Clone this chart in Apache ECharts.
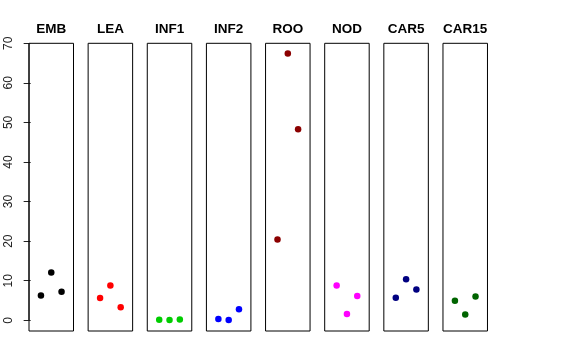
<!DOCTYPE html>
<html><head><meta charset="utf-8">
<script src="https://cdn.jsdelivr.net/npm/echarts@6/dist/echarts.min.js"></script>
<style>html,body{margin:0;padding:0;background:#fff}#c{width:576px;height:360px}</style>
</head><body><div id="c"></div>
<script>
const categories = ["EMB","LEA","INF1","INF2","ROO","NOD","CAR5","CAR15"];
const colors = ["#000000","#FF0000","#00CD00","#0000FF","#8B0000","#FF00FF","#000080","#006400"];
const xPositions = [1, 2, 3];
const EMB = [6.3, 12.1, 7.2];
const LEA = [5.65, 8.8, 3.3];
const INF1 = [0.15, 0.1, 0.2];
const INF2 = [0.35, 0.1, 2.8];
const ROO = [20.4, 67.4, 48.3];
const NOD = [8.8, 1.6, 6.15];
const CAR5 = [5.7, 10.35, 7.8];
const CAR15 = [4.95, 1.45, 6.0];
const values = [EMB, LEA, INF1, INF2, ROO, NOD, CAR5, CAR15];
const yTicks = [0, 10, 20, 30, 40, 50, 60, 70];

const panelLeft = 29, panelStep = 59.14, panelWidth = 44.5, panelTop = 43.3, panelHeight = 287.7;
const grids = [], xAxes = [], yAxes = [], series = [], graphics = [];
categories.forEach((cat, i) => {
  const left = panelLeft + i * panelStep;
  grids.push({left: left, top: panelTop, width: panelWidth, height: panelHeight,
    show: true, borderColor: '#000', borderWidth: 1, backgroundColor: 'transparent'});
  xAxes.push({type: 'value', gridIndex: i, min: -0.16, max: 4.16, show: false});
  yAxes.push({type: 'value', gridIndex: i, min: -2.7, max: 70,
    splitLine: {show: false},
    axisLine: {show: false},
    axisTick: {show: i === 0, length: 7, lineStyle: {color: '#222'}, customValues: yTicks},
    axisLabel: {show: i === 0, rotate: 90, margin: 14, fontSize: 12, color: '#222',
      fontFamily: 'Liberation Sans, Arial, sans-serif', customValues: yTicks}
  });
  graphics.push({type: 'text', x: left + panelWidth / 2, y: 29.5, silent: true,
    style: {text: cat, textAlign: 'center', textVerticalAlign: 'middle', fill: '#000',
      font: 'bold 13.5px "Liberation Sans", Arial, sans-serif'}});
  series.push({type: 'scatter', xAxisIndex: i, yAxisIndex: i, symbolSize: 6.5,
    itemStyle: {color: colors[i], opacity: 1},
    data: xPositions.map((x, k) => [x, values[i][k]]), animation: false});
});
// y axis line from 0 to 70 on first panel
series.push({type: 'line', xAxisIndex: 0, yAxisIndex: 0, data: [[-0.16, 0], [-0.16, 70]],
  symbol: 'none', lineStyle: {color: '#000', width: 1}, animation: false, silent: true});

const chart = echarts.init(document.getElementById('c'), null, {renderer: 'canvas'});
chart.setOption({animation: false, graphic: graphics, grid: grids, xAxis: xAxes, yAxis: yAxes, series: series});
</script></body></html>
